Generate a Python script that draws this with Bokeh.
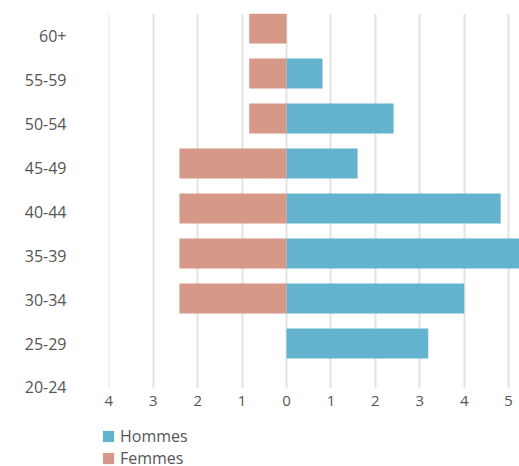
from bokeh.plotting import figure
from bokeh.models import Range1d, LinearAxis, FixedTicker, ColumnDataSource, Legend
from bokeh.layouts import column
from bokeh.embed import file_html
from bokeh.resources import INLINE

ages = ["20-24", "25-29", "30-34", "35-39", "40-44", "45-49", "50-54", "55-59", "60+"]
hommes = [0, 3.19, 4.0, 5.3, 4.82, 1.6, 2.41, 0.81, 0]
femmes = [0, 0, 2.41, 2.41, 2.41, 2.41, 0.84, 0.84, 0.84]
x_ticks = [-4, -3, -2, -1, 0, 1, 2, 3, 4, 5]
series = ["Hommes", "Femmes"]
colors = ["#63B3CE", "#D69887"]

pos = list(range(len(ages)))
src = ColumnDataSource(dict(
    y=pos,
    h=hommes,
    f_left=[-v for v in femmes],
))

FONT = "Open Sans"
TXT = "#555555"

p = figure(width=519, height=420, output_backend="svg", toolbar_location=None,
           x_range=Range1d(-4.007, 5.244), y_range=Range1d(0, 8.333),
           y_axis_location=None,
           min_border_left=108, min_border_right=0, min_border_top=13, min_border_bottom=32)
p.outline_line_color = None
p.background_fill_color = "white"
p.border_fill_color = "white"

p.hbar(y="y", left=0, right="h", height=0.667, source=src,
       fill_color=colors[0], line_color=None)
p.hbar(y="y", left="f_left", right=0, height=0.667, source=src,
       fill_color=colors[1], line_color=None)

# x axis
xa = p.xaxis[0]
xa.ticker = FixedTicker(ticks=x_ticks)
xa.major_label_overrides = {t: str(abs(t)) for t in x_ticks}
xa.axis_line_color = None
xa.major_tick_line_color = None
xa.minor_tick_line_color = None
xa.major_tick_out = 0
xa.major_label_text_font = FONT
xa.major_label_text_font_size = "15px"
xa.major_label_text_color = TXT
xa.major_label_standoff = 7

p.xgrid.ticker = FixedTicker(ticks=x_ticks)
p.xgrid.grid_line_color = "#e3e3e3"
p.xgrid.grid_line_width = 2
p.ygrid.visible = False

# category labels axis
p.extra_y_ranges = {"lab": Range1d(-0.0228, 8.512)}
ya = LinearAxis(y_range_name="lab", ticker=FixedTicker(ticks=pos),
                major_label_overrides={i: a for i, a in enumerate(ages)})
ya.axis_line_color = None
ya.major_tick_line_color = None
ya.minor_tick_line_color = None
ya.major_tick_out = 0
ya.major_label_text_font = FONT
ya.major_label_text_font_size = "16px"
ya.major_label_text_color = TXT
ya.major_label_standoff = 42
p.add_layout(ya, "left")

# legend strip below the chart
p2 = figure(width=519, height=46, output_backend="svg", toolbar_location=None,
            x_range=Range1d(0, 1), y_range=Range1d(0, 1),
            x_axis_location=None, y_axis_location=None,
            min_border_left=101, min_border_right=0, min_border_top=5, min_border_bottom=0)
p2.outline_line_color = None
p2.xgrid.visible = False
p2.ygrid.visible = False
dummy = ColumnDataSource(dict(y=[0.5], l=[0], r=[0]))
items = []
for name, col in zip(series, colors):
    r = p2.hbar(y="y", left="l", right="r", height=0.5, source=dummy,
                fill_color=col, line_color=None)
    items.append((name, [r]))

legend = Legend(items=items, location="top_left", orientation="vertical",
                glyph_width=14, glyph_height=14, label_height=14,
                spacing=-2, padding=0, margin=0, label_standoff=5,
                label_text_font=FONT, label_text_font_size="16px",
                label_text_color=TXT, border_line_color=None,
                background_fill_alpha=0)
p2.add_layout(legend, "center")

layout = column(p, column(p2, spacing=0), spacing=0)
open("out.html", "w").write(file_html(layout, INLINE))
